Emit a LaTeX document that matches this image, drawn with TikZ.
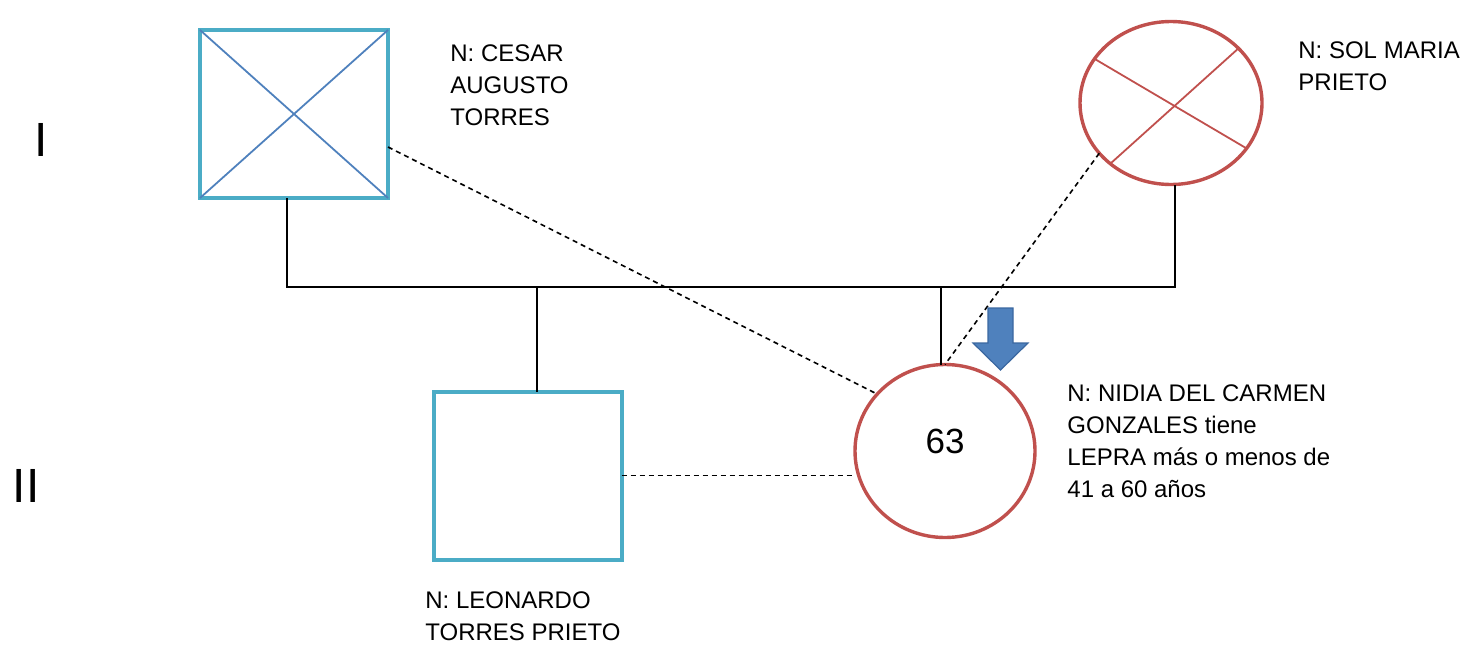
\documentclass[tikz,border=0pt]{standalone}
\usepackage{fontspec}
\setmainfont{Liberation Sans}
\usetikzlibrary{shapes.geometric}
\definecolor{maleaqua}{HTML}{4BACC6}
\definecolor{crossblue}{HTML}{4F81BD}
\definecolor{femred}{HTML}{C0504D}
\definecolor{probandfill}{HTML}{4F81BD}
\definecolor{probanddraw}{HTML}{3A67A0}
\begin{document}
\begin{tikzpicture}[x=0.5pt, y=-0.5pt,
    male/.style={rectangle, draw=maleaqua, line width=2pt, minimum width=94pt, minimum height=84pt, inner sep=0pt, outer sep=0pt},
    female/.style={ellipse, draw=femred, line width=1.7pt, inner sep=0pt, outer sep=0pt},
    dead male/.style={draw=crossblue, line width=0.9pt},
    dead female/.style={draw=femred, line width=0.9pt},
    link/.style={line width=1pt},
    relation/.style={line width=0.8pt, dash pattern=on 2.5pt off 2pt},
    person label/.style={anchor=base west, align=left, inner sep=0pt, font=\fontsize{12}{16}\selectfont},
    generation/.style={inner sep=0pt, font=\fontsize{24}{28}\selectfont},
    proband/.style={fill=probandfill, draw=probanddraw, line width=0.6pt}]

    \useasboundingbox (0,0) rectangle (1472,648);

    \node [male] (cesar) at (294,114) {};
    \node [female, minimum width=91pt, minimum height=81.5pt] (sol) at (1171,103) {};
    \node [male] (leonardo) at (527.5,475.5) {};
    \node [female, minimum width=90pt, minimum height=86.5pt,
      label={[font=\fontsize{17.5}{20}\selectfont, yshift=5pt]center:63}] (nidia) at (945,451) {};

    \draw [dead male] (cesar.north west) -- (cesar.south east)
      (cesar.south west) -- (cesar.north east);
    \draw [dead female] (sol.150) -- (sol.-31)
      (sol.39) -- (sol.225);

    \coordinate (union) at (700,287);
    \coordinate (drop-leonardo) at (537,287);
    \coordinate (drop-nidia) at (941,287);

    \draw [link] ([xshift=-3.5pt]cesar.south) |- (union) -| ([xshift=2pt]sol.south);
    \foreach \c in {leonardo,nidia}
      \draw [link] (drop-\c) -- (drop-\c |- \c.north);

    \draw [relation] ([yshift=-16.5pt]cesar.east) -- (nidia.140);
    \draw [relation] (sol.215) -- (nidia.north);
    \draw [relation] (leonardo.east) -- (leonardo.east -| nidia.west);

    \draw [proband] (988,308) -- (1013,308) -- (1013,343) -- (1028,343)
      -- (1000.5,370) -- (973,343) -- (988,343) -- cycle;

    \foreach \g/\x/\y in {I/41/140, II/26/486}
      \node [generation] (gen-\g) at (\x,\y) {\g};

    \node [person label] (cesar-name) at (450,125) {N: CESAR\\AUGUSTO\\TORRES};
    \node [person label] (sol-name) at (1298,90) {N: SOL MARIA\\PRIETO};
    \node [person label] (nidia-name) at (1067,497) {N: NIDIA DEL CARMEN\\GONZALES tiene\\LEPRA más o menos de\\41 a 60 años};
    \node [person label] (leonardo-name) at (425,640) {N: LEONARDO\\TORRES PRIETO};

\end{tikzpicture}
\end{document}
